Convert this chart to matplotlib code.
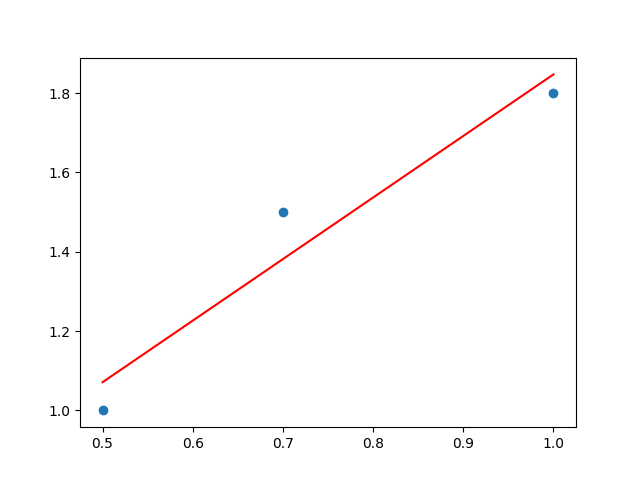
import matplotlib
matplotlib.use("Agg")
import matplotlib.pyplot as plt
import numpy as np

x_vals = [0.5, 0.7, 1.0]
y_vals = [1.0, 1.5, 1.8]

# least squares fit line through the points
slope, intercept = np.polyfit(x_vals, y_vals, 1)
fit_y = [slope * x + intercept for x in x_vals]

fig = plt.figure(figsize=(6.4, 4.8), dpi=100)
plt.scatter(x_vals, y_vals)
plt.plot(x_vals, fit_y, color='red')
plt.savefig('out.png')
